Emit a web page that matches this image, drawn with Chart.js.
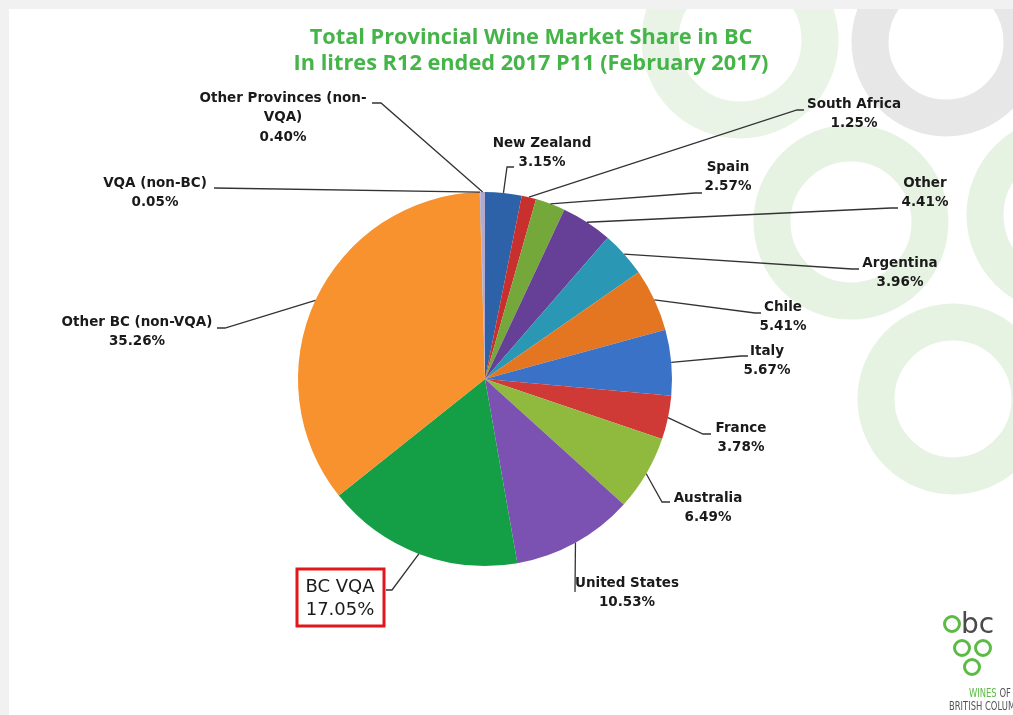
<!DOCTYPE html>
<html>
<head>
<meta charset="utf-8">
<script src="https://cdn.jsdelivr.net/npm/chart.js@4.4.0/dist/chart.umd.min.js"></script>
<style>
  html, body { margin: 0; padding: 0; background: #fff; }
  #wrap { width: 1013px; height: 715px; }
</style>
</head>
<body>
<div id="wrap"><canvas id="myChart" width="1013" height="715"></canvas></div>
<script>
// data, clockwise from 12 o'clock
const categories = ['New Zealand', 'South Africa', 'Spain', 'Other', 'Argentina', 'Chile', 'Italy',
  'France', 'Australia', 'United States', 'BC VQA', 'Other BC (non-VQA)', 'VQA (non-BC)',
  'Other Provinces (non-VQA)'];
const shares = [3.15, 1.25, 2.57, 4.41, 3.96, 5.41, 5.67, 3.78, 6.49, 10.53, 17.05, 35.26, 0.05, 0.40];
const sliceColors = ['#2e62a8', '#c8302e', '#74a83a', '#663f96', '#2a98b4', '#e57621', '#3a72c8',
  '#cf3a36', '#8fba3e', '#7b51b2', '#149e45', '#f7922e', '#8aa0c8', '#b3a9cf'];
const titleLines = ['Total Provincial Wine Market Share in BC', 'In litres R12 ended 2017 P11 (February 2017)'];

// where each label sits: text centre x, first line y, elbow of leader line, optional short tail
const labelSpots = [
  { x: 542, y: 143, ex: 507, ey: 167, tx: 514 },
  { x: 854, y: 104, ex: 797, ey: 110, tx: 804 },
  { x: 728, y: 167, ex: 695, ey: 193, tx: 702 },
  { x: 925, y: 183, ex: 891, ey: 208, tx: 898 },
  { x: 900, y: 263, ex: 852, ey: 269, tx: 859 },
  { x: 783, y: 307, ex: 755, ey: 313, tx: 761 },
  { x: 767, y: 351, ex: 741, ey: 356, tx: 748 },
  { x: 741, y: 428, ex: 703, ey: 434, tx: 711 },
  { x: 708, y: 498, ex: 662, ey: 502, tx: 670 },
  { x: 627, y: 583, ex: 575, ey: 592 },
  { x: 340, y: 587, ex: 392, ey: 590, tx: 386, box: true },
  { x: 137, y: 322, ex: 225, ey: 328, tx: 217 },
  { x: 155, y: 183, ex: 214, ey: 188 },
  { x: 283, y: 98, ex: 381, ey: 103, tx: 372, wrap: 21 }
];

const backdrop = {
  id: 'backdrop',
  beforeDraw(chart) {
    const ctx = chart.ctx;
    ctx.save();
    ctx.fillStyle = '#f2f1f2';
    ctx.fillRect(0, 0, chart.width, chart.height);
    ctx.fillStyle = '#ffffff';
    ctx.fillRect(9, 9, chart.width - 9, chart.height - 9);
    ctx.beginPath();
    ctx.rect(9, 9, chart.width - 9, chart.height - 9);
    ctx.clip();
    const rings = [
      [740, 40, 80, '#e9f4e6'],
      [946, 42, 76, '#e7e7e7'],
      [851, 222, 79, '#e6f3e2'],
      [1065, 215, 80, '#e6f3e2'],
      [953, 399, 77, '#e6f3e2']
    ];
    rings.forEach(r => {
      ctx.beginPath();
      ctx.arc(r[0], r[1], r[2], 0, Math.PI * 2);
      ctx.lineWidth = 37;
      ctx.strokeStyle = r[3];
      ctx.stroke();
    });
    ctx.restore();
  }
};

function fitFont(ctx, text, target) {
  let size = 24;
  ctx.font = 'bold ' + size + 'px "Open Sans"';
  while (ctx.measureText(text).width > target && size > 10) {
    size -= 0.25;
    ctx.font = 'bold ' + size + 'px "Open Sans"';
  }
}

const annotate = {
  id: 'annotate',
  afterDatasetsDraw(chart) {
    const ctx = chart.ctx;
    const meta = chart.getDatasetMeta(0);
    ctx.save();

    // title, one size for both lines
    ctx.fillStyle = '#45b449';
    ctx.textAlign = 'center';
    ctx.textBaseline = 'alphabetic';
    fitFont(ctx, titleLines[1], 478);
    ctx.fillText(titleLines[0], 531, 44);
    ctx.fillText(titleLines[1], 531, 70);

    // leader lines and labels
    meta.data.forEach((arc, i) => {
      const s = labelSpots[i];
      const p = arc.getProps(['x', 'y', 'startAngle', 'endAngle', 'outerRadius'], true);
      const mid = (p.startAngle + p.endAngle) / 2;
      const px = p.x + Math.cos(mid) * p.outerRadius;
      const py = p.y + Math.sin(mid) * p.outerRadius;
      ctx.beginPath();
      ctx.moveTo(px, py);
      ctx.lineTo(s.ex, s.ey);
      if (s.tx != null) ctx.lineTo(s.tx, s.ey);
      ctx.lineWidth = 1.3;
      ctx.strokeStyle = '#333';
      ctx.stroke();

      const name = categories[i];
      const lines = s.wrap ? [name.slice(0, s.wrap), name.slice(s.wrap)] : [name];
      lines.push(shares[i].toFixed(2) + '%');
      ctx.fillStyle = '#1a1a1a';
      ctx.textBaseline = 'middle';
      ctx.textAlign = 'center';
      if (s.box) {
        ctx.font = '18px "DejaVu Sans"';
        lines.forEach((t, k) => ctx.fillText(t, s.x, s.y + k * 23));
        ctx.strokeStyle = '#e0181b';
        ctx.lineWidth = 3;
        ctx.strokeRect(s.x - 43, s.y - 18, 87, 57);
      } else {
        ctx.font = 'bold 13.5px "DejaVu Sans"';
        lines.forEach((t, k) => ctx.fillText(t, s.x, s.y + k * 19.5));
      }
    });

    // logo
    ctx.strokeStyle = '#5cbb45';
    ctx.lineWidth = 3;
    [[952, 624], [962, 648], [983, 648], [972, 667]].forEach(c => {
      ctx.beginPath();
      ctx.arc(c[0], c[1], 7.5, 0, Math.PI * 2);
      ctx.stroke();
    });
    ctx.fillStyle = '#4a4a4a';
    ctx.textAlign = 'left';
    ctx.textBaseline = 'alphabetic';
    ctx.font = '28px "DejaVu Sans"';
    ctx.fillText('bc', 961, 633);
    ctx.save();
    ctx.translate(969, 697);
    ctx.scale(0.7, 1);
    ctx.font = '12px "DejaVu Sans"';
    ctx.fillStyle = '#5cbb45';
    ctx.fillText('WINES', 0, 0);
    const w = ctx.measureText('WINES ').width;
    ctx.fillStyle = '#555';
    ctx.fillText('OF', w, 0);
    ctx.restore();
    ctx.save();
    ctx.translate(949, 710);
    ctx.scale(0.7, 1);
    ctx.font = '12px "DejaVu Sans"';
    ctx.fillStyle = '#555';
    ctx.fillText('BRITISH COLUMBIA', 0, 0);
    ctx.restore();

    ctx.restore();
  }
};

const ctx = document.getElementById('myChart');
const chart = new Chart(ctx, {
  type: 'pie',
  data: {
    labels: categories,
    datasets: [{
      data: shares,
      backgroundColor: sliceColors,
      borderWidth: 0
    }]
  },
  options: {
    responsive: false,
    animation: false,
    layout: { padding: { left: 298, right: 341, top: 192, bottom: 149 } },
    plugins: {
      legend: { display: false },
      tooltip: { enabled: false },
      title: { display: false }
    }
  },
  plugins: [backdrop, annotate]
});
</script>
</body>
</html>
